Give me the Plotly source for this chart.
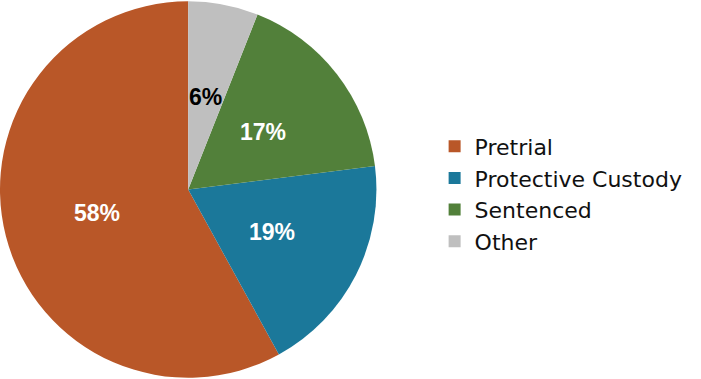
import math
import plotly.graph_objects as go

categories = ["Pretrial", "Protective Custody", "Sentenced", "Other"]
shares = [58, 19, 17, 6]
colors = ["#B95728", "#1B789A", "#52803A", "#BFBFBF"]
label_colors = ["white", "white", "white", "black"]

W, H = 701, 379
dom_x = [0, 0.537]

fig = go.Figure(go.Pie(
    labels=categories,
    values=shares,
    sort=False,
    direction="counterclockwise",
    # plotly ends the first slice at `rotation` when counterclockwise
    rotation=151.2,
    marker=dict(colors=colors, line=dict(width=0)),
    textinfo="none",
    domain=dict(x=dom_x, y=[0, 1]),
    hoverinfo="label+percent",
))

# percentage labels at half radius on each slice's middle angle (Excel style)
radius = min((dom_x[1] - dom_x[0]) * W, H) / 2
cx = (dom_x[0] + dom_x[1]) / 2
total = sum(shares)
start = 360.0  # slices run counterclockwise from 12 o'clock
for cat, val, col in zip(categories, shares, label_colors):
    mid = start - val / total * 360 / 2
    start -= val / total * 360
    a = math.radians(mid)
    fig.add_annotation(
        x=cx + 0.5 * radius * math.sin(a) / W,
        y=0.5 + 0.5 * radius * math.cos(a) / H,
        xref="paper", yref="paper", showarrow=False,
        xanchor="center", yanchor="middle",
        text=f"{val}%",
        font=dict(family="Liberation Sans", size=23, color=col, weight="bold"),
    )

fig.update_layout(
    width=W,
    height=H,
    margin=dict(l=0, r=0, t=0, b=0),
    paper_bgcolor="white",
    plot_bgcolor="white",
    legend=dict(
        x=0.62, y=0.488, xanchor="left", yanchor="middle",
        font=dict(family="DejaVu Sans", size=22, color="#111111"),
        traceorder="normal",
    ),
)

fig.write_html("out.html", config={"displayModeBar": False},
               post_script="document.body.style.margin='0';")
